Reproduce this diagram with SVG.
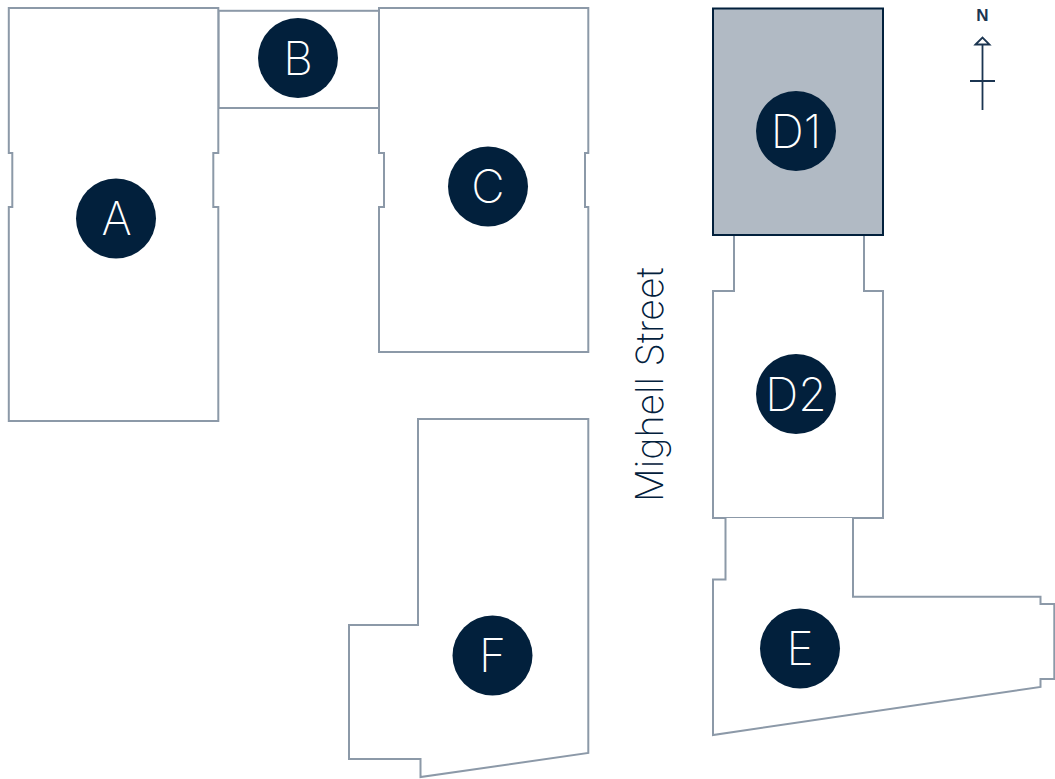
<svg xmlns="http://www.w3.org/2000/svg" width="1055" height="779" viewBox="0 0 1055 779">
<style>
.o{fill:#fff;stroke:#8c99a8;stroke-width:2}
.c{fill:#02203c}
.l{font-family:"Inter","Liberation Sans",sans-serif;font-weight:200;font-size:46px;fill:#fff;text-anchor:middle}
.n{fill:none;stroke:#1b3551;stroke-width:1.8}
</style>
<rect width="1055" height="779" fill="#fff"/>
<g id="node-B"><rect class="o" x="218.500" y="10.800" width="160.500" height="97.200"/><circle class="c" cx="298" cy="58" r="40"/><text class="l" x="298" y="74.500">B</text></g>
<g id="node-A"><path class="o" d="M8.800 8H218.300V153H213.300V207H218.300V421H8.800V207H12.300V153H8.800Z"/><circle class="c" cx="116" cy="218.500" r="40"/><text class="l" x="116.500" y="235">A</text></g>
<g id="node-C"><path class="o" d="M379 8H588.300V153H585V207H588.300V352H379V207H384V153H379Z"/><circle class="c" cx="488" cy="186.500" r="40"/><text class="l" x="488" y="203">C</text></g>
<g id="node-D2"><path class="o" d="M734 235V291H713V518H883V291H864V235"/><circle class="c" cx="796" cy="394" r="40"/><text class="l" x="796" y="410.500">D2</text></g>
<g id="node-D1"><rect x="713" y="8.500" width="170" height="226.500" fill="#b1bac4" stroke="#02203c" stroke-width="2"/><circle class="c" cx="796" cy="131" r="40"/><text class="l" x="796" y="147.500">D1</text></g>
<g id="node-E"><path class="o" d="M725.500 518V579.500H713V735L1040.500 687V679H1054.300V604H1040.500V596.800H853V518"/><circle class="c" cx="800" cy="648.500" r="40"/><text class="l" x="800" y="665">E</text></g>
<g id="node-F"><path class="o" d="M418 419H588.300V753L420.500 777V759H349V625H418Z"/><circle class="c" cx="492.500" cy="655.500" r="40"/><text class="l" x="492.500" y="672">F</text></g>
<g id="street"><text transform="translate(663 502) rotate(-90)" font-family="Inter, 'Liberation Sans', sans-serif" font-weight="200" font-size="37.600" fill="#02203c">Mighell Street</text></g>
<g id="north"><text x="982.500" y="21" font-family="'Liberation Sans', sans-serif" font-weight="700" font-size="17" fill="#1b3551" text-anchor="middle">N</text><path class="n" d="M982.500 44V110M970 81H995M975.500 44.500L982.500 37.500L989.500 44.500Z"/></g>
<g id="connectors"></g>
</svg>
